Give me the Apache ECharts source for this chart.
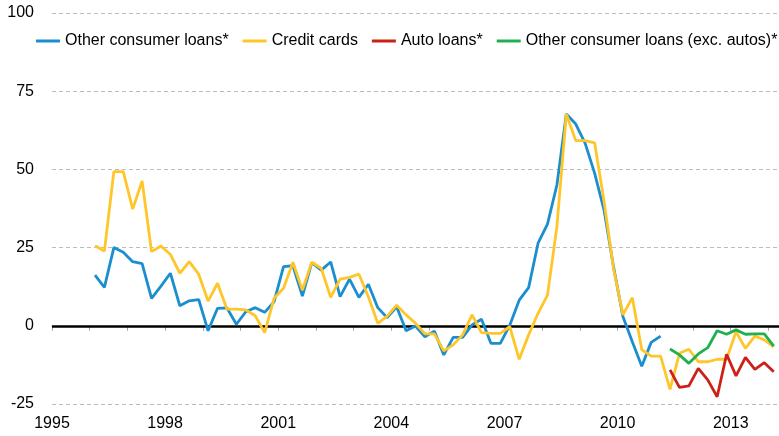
<!DOCTYPE html>
<html>
<head>
<meta charset="utf-8">
<script src="https://cdn.jsdelivr.net/npm/echarts@6/dist/echarts.min.js"></script>
<style>
html,body{margin:0;padding:0;background:#fff;}
#chart{width:779px;height:436px;}
</style>
</head>
<body>
<div id="chart"></div>
<script>
// Quarterly survey readings, first reading in Q1 1996 (plotted mid-February)
const FIRST_YEAR = 1996;
const SERIES_NAMES = ['Other consumer loans*', 'Credit cards', 'Auto loans*', 'Other consumer loans (exc. autos)*'];
const COLORS = ['#1B8ED0', '#FFC629', '#CC2119', '#21B04F'];
const yTicks = [-25, 0, 25, 50, 75, 100];
const xLabelYears = [1995, 1998, 2001, 2004, 2007, 2010, 2013];

// index 0 = 1996 Q1
const otherConsumer = [16.2, 12.3, 25.0, 23.5, 20.5, 19.9, 8.8, 12.7, 16.8, 6.4,
  8.0, 8.4, -1.6, 5.6, 5.7, 0.5, 4.5, 5.8, 4.3, 7.7,
  18.9, 19.2, 9.5, 20.2, 17.8, 20.4, 9.3, 14.9, 9.1, 13.3,
  5.8, 2.6, 6.1, -1.6, -0.1, -3.5, -1.7, -9.3, -3.7, -3.7,
  0.3, 2.1, -5.6, -5.6, 0.2, 8.2, 12.2, 26.4, 32.5, 45.0,
  67.7, 64.5, 58.3, 48.8, 37.0, 19.0, 3.0, -5.1, -12.9, -5.3,
  -3.3];
const creditCards = [25.6, 23.9, 49.3, 49.3, 37.3, 46.3, 23.7, 25.5, 22.8, 16.8,
  20.5, 16.5, 7.9, 13.6, 5.3, 5.3, 5.1, 3.2, -2.2, 8.8,
  12.0, 20.3, 11.4, 20.3, 18.4, 9.1, 14.9, 15.5, 16.5, 9.3,
  0.8, 3.1, 6.6, 3.5, 0.8, -2.6, -2.6, -8.0, -6.1, -2.9,
  3.5, -2.2, -2.4, -2.4, -0.3, -10.7, -2.9, 4.0, 9.8, 31.7,
  67.7, 59.2, 59.2, 58.5, 39.8, 18.4, 3.5, 9.0, -7.6, -9.7,
  -9.7, -20.3, -8.8, -7.5, -11.5, -11.5, -10.7, -10.7, -1.9, -7.2,
  -3.3, -4.5, -6.7];
// these two start in 2011 Q2 (index 61)
const AUTO_START = 61;
const autoLoans = [-14.1, -19.7, -19.2, -13.6, -17.3, -22.7, -9.1, -16.0, -10.1, -13.9, -11.8, -14.7];
const otherExAutos = [-7.4, -9.3, -12.0, -9.0, -7.0, -1.6, -2.7, -1.3, -2.7, -2.6, -2.6, -6.5];

function quarterPos(i) { return FIRST_YEAR + 0.14 + i * 0.25; }
function toPairs(values, offset) {
  return values.map((v, i) => [quarterPos(i + offset), v]);
}

const chart = echarts.init(document.getElementById('chart'), null, {renderer: 'canvas'});
const font = 'Liberation Sans, Arial, sans-serif';

function lineSeries(idx, data) {
  return {
    name: SERIES_NAMES[idx],
    type: 'line',
    data: data,
    showSymbol: false,
    symbol: 'none',
    lineStyle: {color: COLORS[idx], width: 2.8},
    itemStyle: {color: COLORS[idx]},
    z: 3,
    animation: false
  };
}

const series = [
  lineSeries(0, toPairs(otherConsumer, 0)),
  lineSeries(1, toPairs(creditCards, 0)),
  lineSeries(2, toPairs(autoLoans, AUTO_START)),
  lineSeries(3, toPairs(otherExAutos, AUTO_START))
];
series[0].markLine = {
  silent: true,
  symbol: ['none', 'none'],
  label: {show: false},
  lineStyle: {color: '#000', width: 2.5, type: 'solid'},
  data: [{yAxis: 0}],
  z: 2,
  animation: false
};

chart.setOption({
  animation: false,
  backgroundColor: '#fff',
  grid: {left: 52, right: 0, top: 13, bottom: 32, containLabel: false},
  legend: {
    data: SERIES_NAMES,
    left: 36,
    top: 33,
    width: 743,
    padding: 0,
    icon: 'rect',
    itemWidth: 24,
    itemHeight: 3,
    itemGap: 14,
    textStyle: {fontFamily: font, fontSize: 16, color: '#000'}
  },
  xAxis: {
    type: 'value',
    min: 1995,
    max: 2014.28,
    interval: 1,
    axisLine: {show: true, lineStyle: {color: '#a6a6a6', width: 1}},
    axisTick: {show: true, length: 5, lineStyle: {color: '#a6a6a6'}},
    splitLine: {show: false},
    axisLabel: {
      margin: 12,
      fontFamily: font,
      fontSize: 16,
      color: '#000',
      showMaxLabel: false,
      formatter: function (v) {
        const r = Math.round(v);
        return (Math.abs(v - r) < 1e-6 && xLabelYears.indexOf(r) >= 0) ? String(r) : '';
      }
    }
  },
  yAxis: {
    type: 'value',
    min: yTicks[0],
    max: yTicks[yTicks.length - 1],
    interval: 25,
    axisLine: {show: false},
    axisTick: {show: false},
    splitLine: {show: true, lineStyle: {color: '#bdbdbd', type: [4, 3], width: 1}},
    axisLabel: {margin: 18, fontFamily: font, fontSize: 16, color: '#000'}
  },
  series: series
});
</script>
</body>
</html>
